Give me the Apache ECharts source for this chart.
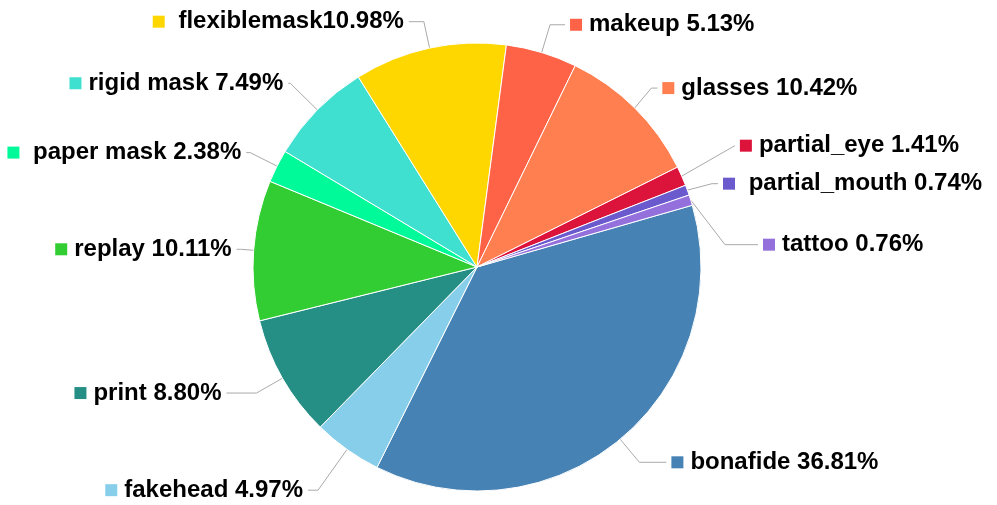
<!DOCTYPE html>
<html><head><meta charset="utf-8">
<script src="https://cdn.jsdelivr.net/npm/echarts@6/dist/echarts.min.js"></script>
<style>html,body{margin:0;padding:0;background:#fff}#c{width:997px;height:505px}</style>
</head><body><div id="c"></div>
<script>
const categories = ['bonafide ', 'fakehead ', 'print ', 'replay ', ' paper mask ', 'rigid mask ', ' flexiblemask', 'makeup ', 'glasses ', 'partial_eye ', ' partial_mouth ', 'tattoo '];
const values = [36.81, 4.97, 8.80, 10.11, 2.38, 7.49, 10.98, 5.13, 10.42, 1.41, 0.74, 0.76];
const colors = ['#4682B4', '#87CEEB', '#258F85', '#32CD32', '#00FA9A', '#40E0D0', '#FFD700', '#FF6347', '#FF7F50', '#DC143C', '#6A5ACD', '#9370DB'];
// label line styling per slice (first / second segment lengths) and label spacing
const lineLen = [30, 50, 30, 13, 30, 38, 27, 29, 28, 75, 30, 30];
const lineLen2 = [27, 10, 30, 4, 4, 2, 15, 15, 6, 0, 6, 33];
const labelMargin = [0, 0, 0, 0, 0, 0, 0, 0, 0, 0, 28, 46];

const chart = echarts.init(document.getElementById('c'), null, {renderer: 'canvas'});
const data = categories.map((name, i) => ({
  name: name,
  value: values[i],
  itemStyle: {color: colors[i]},
  labelLine: {length: lineLen[i], length2: lineLen2[i]},
  label: {
    minMargin: labelMargin[i],
    formatter: '{sq|}{t|' + name + values[i].toFixed(2) + '%}',
    rich: {
      sq: {width: 12, height: 12, backgroundColor: colors[i]},
      t: {fontSize: 24, fontWeight: 'bold', color: '#000', fontFamily: 'Liberation Sans, Arial, sans-serif', padding: [0, 0, 0, 7]}
    }
  }
}));
chart.setOption({
  animation: false,
  backgroundColor: '#fff',
  series: [{
    type: 'pie',
    center: [477, 267],
    radius: 224,
    startAngle: 16,
    clockwise: true,
    data: data,
    itemStyle: {borderColor: '#fff', borderWidth: 1},
    label: {show: true, position: 'outside', fontSize: 24, fontWeight: 'bold', color: '#000', fontFamily: 'Liberation Sans, Arial, sans-serif'},
    labelLine: {show: true, length: 30, length2: 8, lineStyle: {color: '#aaa', width: 1}}
  }]
});
</script></body></html>
